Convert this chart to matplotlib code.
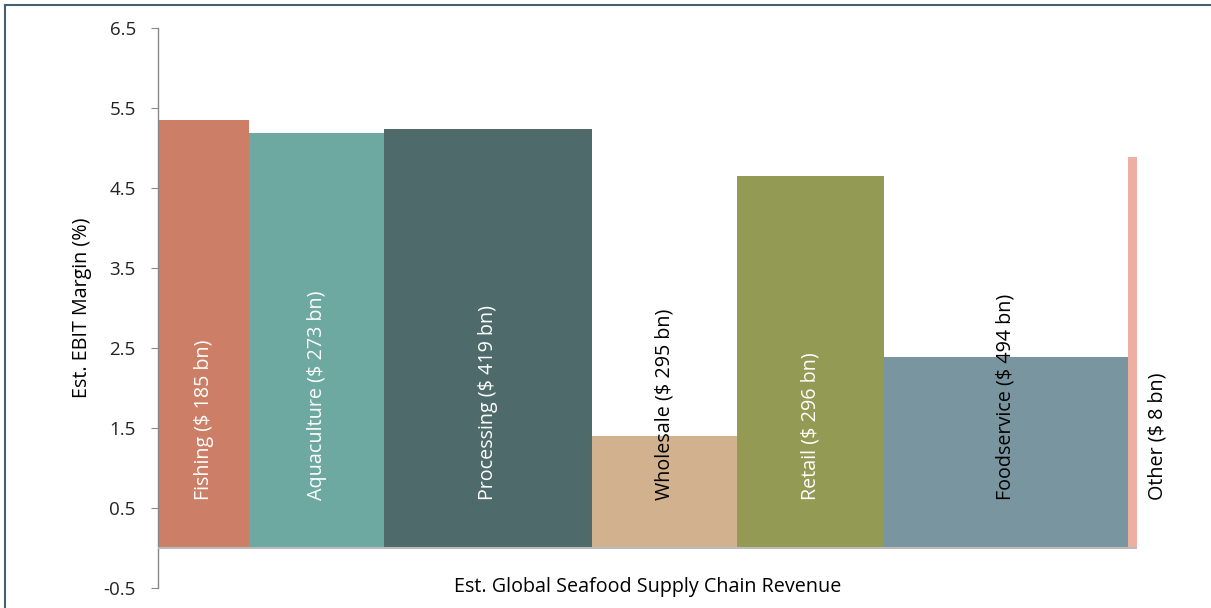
import matplotlib
matplotlib.use("Agg")
import matplotlib.pyplot as plt
from matplotlib.lines import Line2D
import numpy as np

plt.rcParams['font.family'] = ['Open Sans', 'DejaVu Sans']

categories = ["Fishing", "Aquaculture", "Processing", "Wholesale", "Retail", "Foodservice", "Other"]
revenue_bn = [185, 273, 419, 295, 296, 494, 8]
ebit_margin = [5.35, 5.19, 5.24, 1.40, 4.65, 2.39, 4.89]
colors = ["#CC7F66", "#6DA9A1", "#4F6A6A", "#D2B18E", "#939A53", "#7996A0", "#EEAFA2"]
label_colors = ["white", "white", "white", "black", "white", "black", "black"]
yticks = [-0.5, 0.5, 1.5, 2.5, 3.5, 4.5, 5.5, 6.5]

MIN_WIDTH = 18  # minimum drawn width so tiny segments remain visible

fig = plt.figure(figsize=(12.11, 6.08), dpi=100)
ax = fig.add_axes([158/1211, 1-588/608, (1137-158)/1211, (588-28)/608])

widths = np.maximum(np.array(revenue_bn, dtype=float), MIN_WIDTH)
lefts = np.concatenate([[0], np.cumsum(widths)[:-1]])
ax.bar(lefts, ebit_margin, width=widths, align='edge', color=colors, edgecolor='none')

for i, (cat, rev) in enumerate(zip(categories, revenue_bn)):
    txt = f"{cat} ($ {rev} bn)"
    if cat == "Other":
        ax.annotate(txt, xy=(lefts[i] + widths[i] / 2, 0.6), xytext=(18, 0),
                    textcoords='offset points', rotation=90, ha='center', va='bottom',
                    fontsize=14.2, color=label_colors[i])
    else:
        ax.text(lefts[i] + widths[i] / 2, 0.6, txt, rotation=90, ha='center', va='bottom',
                fontsize=14.2, color=label_colors[i])

ax.axhline(0, color='#BBBBBB', lw=1.5, zorder=3)
ax.set_xlim(0, widths.sum())
ax.set_ylim(-0.5, 6.5)
ax.set_yticks(yticks)
ax.set_yticklabels([f"{t:.1f}" for t in yticks], fontsize=13.5, color='#222222')
ax.tick_params(axis='y', length=5, color='#888888', pad=11)
ax.set_xticks([])
for s in ['top', 'right', 'bottom']:
    ax.spines[s].set_visible(False)
ax.spines['left'].set_color('#888888')
ax.spines['left'].set_linewidth(1)

ax.set_ylabel("Est. EBIT Margin (%)", fontsize=14.2, labelpad=8)
ax.set_xlabel("Est. Global Seafood Supply Chain Revenue", fontsize=14.2, labelpad=-8)

# figure border (top and left visible)
fig.add_artist(Line2D([5/1211, 1], [1-4.5/608, 1-4.5/608], transform=fig.transFigure, color='#46606E', lw=1.5))
fig.add_artist(Line2D([5/1211, 5/1211], [0, 1-4.5/608], transform=fig.transFigure, color='#46606E', lw=1.5))

fig.savefig("out.png", dpi=100)
